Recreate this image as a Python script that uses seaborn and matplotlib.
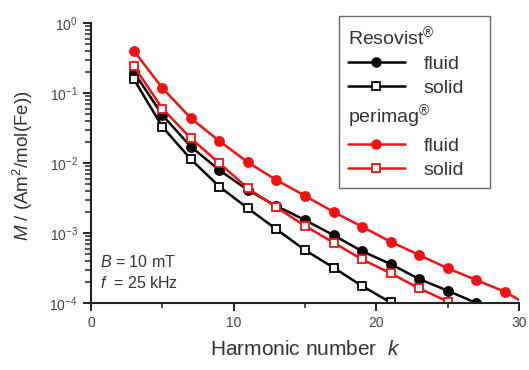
import matplotlib
matplotlib.use("Agg")
import matplotlib.pyplot as plt
from matplotlib.lines import Line2D
from matplotlib.ticker import LogLocator, NullFormatter
import seaborn as sns
import pandas as pd
import numpy as np

# ---- data ----
k_res_fluid = [3, 5, 7, 9, 11, 13, 15, 17, 19, 21, 23, 25, 27]
m_res_fluid = [0.20, 0.0485, 0.0171, 0.0079, 0.0041, 0.00243, 0.00153, 0.00093,
               0.00055, 0.00036, 0.00022, 0.00015, 0.000100]
k_res_solid = [3, 5, 7, 9, 11, 13, 15, 17, 19, 21]
m_res_solid = [0.158, 0.033, 0.0113, 0.0046, 0.00225, 0.00113, 0.00057, 0.00032,
               0.000175, 0.000102]
k_peri_fluid = [3, 5, 7, 9, 11, 13, 15, 17, 19, 21, 23, 25, 27, 29, 31]
m_peri_fluid = [0.40, 0.118, 0.0436, 0.0206, 0.0102, 0.0057, 0.0034, 0.0020,
                0.00123, 0.00075, 0.000485, 0.000313, 0.000213, 0.000145, 0.000085]
k_peri_solid = [3, 5, 7, 9, 11, 13, 15, 17, 19, 21, 23, 25]
m_peri_solid = [0.243, 0.060, 0.0225, 0.0099, 0.00435, 0.00233, 0.00126, 0.00073,
                0.00042, 0.000266, 0.000162, 0.000105]

x_ticks = [0, 10, 20, 30]
legend_labels = ["Resovist$^{®}$", "fluid", "solid", "perimag$^{®}$", "fluid", "solid"]

RED = "#f01212"
BLACK = "#000000"

sns.set_style("ticks")
plt.rcParams["font.family"] = ["Liberation Sans", "DejaVu Sans"]
plt.rcParams["mathtext.fontset"] = "custom"
plt.rcParams["mathtext.rm"] = "Liberation Sans"
plt.rcParams["mathtext.it"] = "Liberation Sans:italic"

fig = plt.figure(figsize=(5.29, 3.70), dpi=100)
ax = fig.add_axes([91/529, 1-303/370, (519-91)/529, (303-23)/370])

series = [
    (k_res_fluid, m_res_fluid, BLACK, True),
    (k_res_solid, m_res_solid, BLACK, False),
    (k_peri_solid, m_peri_solid, RED, False),
    (k_peri_fluid, m_peri_fluid, RED, True),
]
for kk, mm, col, filled in series:
    df = pd.DataFrame({"k": kk, "M": mm})
    sns.lineplot(data=df, x="k", y="M", ax=ax, color=col, lw=1.8,
                 marker="o" if filled else "s", markersize=6.5 if filled else 5.5,
                 markerfacecolor=col if filled else "white",
                 markeredgecolor=col, markeredgewidth=1.3)

ax.set_yscale("log")
ax.set_ylim(1e-4, 1)
ax.set_xlim(0, 30)
sns.despine(ax=ax)
ax.set_xticks(x_ticks)
ax.set_xticks([5, 15, 25], minor=True)
ax.yaxis.set_minor_locator(LogLocator(base=10, subs=np.arange(2, 10), numticks=20))
ax.yaxis.set_minor_formatter(NullFormatter())
for s in ["left", "bottom"]:
    ax.spines[s].set_linewidth(1.5)
    ax.spines[s].set_color("#222222")
ax.tick_params(which="major", length=6, width=1.4, labelsize=10, colors="#222222",
               labelcolor="#444444")
ax.tick_params(axis="y", which="minor", length=4, width=1.2, colors="#333333", left=True)
ax.tick_params(axis="x", which="minor", length=3.5, width=1.2, colors="#333333", bottom=True)

ax.set_xlabel("Harmonic number  $\\mathit{k}$", fontsize=15, color="#333333", labelpad=7)
ax.set_ylabel("$\\mathit{M}$ / (Am$^2$/mol(Fe))", fontsize=13.5, color="#333333")
ax.yaxis.set_label_coords(-0.13, 0.49)

ax.text(0.022, 0.146, "$\\mathit{B}$ = 10 mT", transform=ax.transAxes, fontsize=11.5,
        color="#333333", va="center")
ax.text(0.022, 0.071, "$\\mathit{f}$  = 25 kHz", transform=ax.transAxes, fontsize=11.5,
        color="#333333", va="center")

blank = Line2D([], [], linestyle="none")
handles = [
    blank,
    Line2D([], [], color=BLACK, lw=1.8, marker="o", markersize=6.5, markerfacecolor=BLACK),
    Line2D([], [], color=BLACK, lw=1.8, marker="s", markersize=5.5, markerfacecolor="white",
           markeredgewidth=1.3),
    blank,
    Line2D([], [], color=RED, lw=1.8, marker="o", markersize=6.5, markerfacecolor=RED,
           markeredgecolor=RED),
    Line2D([], [], color=RED, lw=1.8, marker="s", markersize=5.5, markerfacecolor="white",
           markeredgecolor=RED, markeredgewidth=1.3),
]
fs = 14
hl, htp = 2.95, 0.95
leg = ax.legend(handles, legend_labels, loc="upper left",
                bbox_to_anchor=(0.579, 1.025, 0.353, 0.0), mode="expand",
                fontsize=fs, frameon=True, fancybox=False, handlelength=hl,
                handletextpad=htp, labelspacing=0.33, borderpad=0.45, borderaxespad=0)
leg.get_frame().set_edgecolor("#444444")
leg.get_frame().set_linewidth(1.0)
sep = htp * fs * fig.dpi / 72
rows = leg._legend_handle_box.get_children()[0].get_children()
for i, (row, t) in enumerate(zip(rows, leg.get_texts())):
    t.set_color("#333333")
    if i in (0, 3):
        row.get_children()[0].width = 0
        t.set_position((-sep, 0))

fig.savefig("out.png", dpi=100)
